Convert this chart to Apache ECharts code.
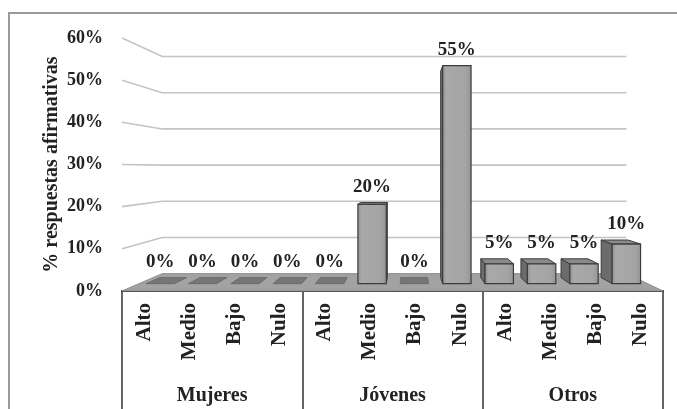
<!DOCTYPE html>
<html><head><meta charset="utf-8">
<script src="https://cdn.jsdelivr.net/npm/echarts@6/dist/echarts.min.js"></script>
<style>html,body{margin:0;padding:0;background:#fff}#c{width:677px;height:409px}</style>
</head><body><div id="c"></div><script>
// ---- data ----
const groups = ['Mujeres', 'Jóvenes', 'Otros'];
const levels = ['Alto', 'Medio', 'Bajo', 'Nulo'];
const categories = ['Alto','Medio','Bajo','Nulo','Alto','Medio','Bajo','Nulo','Alto','Medio','Bajo','Nulo'];
const values = [0, 0, 0, 0, 0, 20, 0, 55, 5, 5, 5, 10];
const yTicks = [0, 10, 20, 30, 40, 50, 60];
const yName = '% respuestas afirmativas';

// ---- view (perspective) parameters ----
const EYE_X_BANDS = 6.29;   // eye position measured in category bands from the left of the floor
const EYE_VALUE = 29;       // eye height in value units
const S_BACK = 0.858;       // scale of the back wall
const S_FRONT_BAR = 0.94;   // scale of bar front face
const S_BACK_BAR = 0.89;    // scale of bar back face
const BAR_W = 0.67;         // bar width as share of band

const FONT = '"Liberation Serif", "Times New Roman", serif';

function eye(api) {
  const band = api.size([1, 0])[0];
  const x0 = api.coord([0, 0])[0] - band / 2;
  return [x0 + EYE_X_BANDS * band, api.coord([0, EYE_VALUE])[1]];
}
function proj(e, x, y, s) { return [e[0] + (x - e[0]) * s, e[1] + (y - e[1]) * s]; }

function renderWalls(params, api) {
  const e = eye(api);
  const band = api.size([1, 0])[0];
  const x0 = api.coord([0, 0])[0] - band / 2;
  const x1 = x0 + categories.length * band;
  const y0 = api.coord([0, 0])[1];
  const children = [];
  yTicks.forEach(function (t) {
    if (t === 0) return;
    const y = api.coord([0, t])[1];
    const a = proj(e, x0, y, 1), b = proj(e, x0, y, S_BACK), c = proj(e, x1, y, S_BACK);
    children.push({ type: 'polyline', shape: { points: [a, b, c] },
      style: { stroke: '#c4c4c4', lineWidth: 1.6, fill: null } });
  });
  children.push({ type: 'polygon', shape: { points: [
      proj(e, x0, y0, 1), proj(e, x1, y0, 1), proj(e, x1, y0, S_BACK), proj(e, x0, y0, S_BACK)] },
    style: { fill: '#a2a2a2', stroke: '#8c8c8c', lineWidth: 1 } });
  return { type: 'group', children: children };
}

function renderBar(params, api) {
  const i = api.value(0), v = api.value(1);
  const e = eye(api);
  const band = api.size([1, 0])[0];
  const c = api.coord([i, v]);
  const c0 = api.coord([i, 0]);
  const hw = band * BAR_W / 2;
  const xL = c[0] - hw, xR = c[0] + hw, yT = c[1], yB = c0[1];
  const f = [proj(e, xL, yT, S_FRONT_BAR), proj(e, xR, yT, S_FRONT_BAR), proj(e, xR, yB, S_FRONT_BAR), proj(e, xL, yB, S_FRONT_BAR)];
  const b = [proj(e, xL, yT, S_BACK_BAR), proj(e, xR, yT, S_BACK_BAR), proj(e, xR, yB, S_BACK_BAR), proj(e, xL, yB, S_BACK_BAR)];
  const children = [];
  const edge = '#3c3c3c';
  if (v === 0) {
    children.push({ type: 'polygon', shape: { points: [f[0], f[1], b[1], b[0]] },
      style: { fill: '#767676', stroke: '#666', lineWidth: 0.8 } });
  } else {
    if (xL > e[0]) children.push({ type: 'polygon', shape: { points: [f[0], b[0], b[3], f[3]] },
      style: { fill: '#6c6c6c', stroke: edge, lineWidth: 1 } });
    if (xR < e[0]) children.push({ type: 'polygon', shape: { points: [f[1], b[1], b[2], f[2]] },
      style: { fill: '#6c6c6c', stroke: edge, lineWidth: 1 } });
    if (yT > e[1]) children.push({ type: 'polygon', shape: { points: [f[0], f[1], b[1], b[0]] },
      style: { fill: '#8a8a8a', stroke: edge, lineWidth: 1 } });
    children.push({ type: 'polygon', shape: { points: f },
      style: { fill: new echarts.graphic.LinearGradient(0, 0, 1, 0, [
          { offset: 0, color: '#8f8f8f' }, { offset: 0.15, color: '#a9a9a9' },
          { offset: 0.8, color: '#a4a4a4' }, { offset: 1, color: '#949494' }]),
        stroke: edge, lineWidth: 1.2 } });
  }
  const topY = Math.min(f[0][1], b[0][1]);
  children.push({ type: 'text', style: { text: v + '%', x: (f[0][0] + f[1][0]) / 2, y: topY - 6,
    align: 'center', verticalAlign: 'bottom', font: 'bold 19px ' + FONT, fill: '#222' } });
  return { type: 'group', children: children };
}

const chart = echarts.init(document.getElementById('c'), null, { renderer: 'canvas' });
chart.setOption({
  animation: false,
  backgroundColor: '#fff',
  graphic: [{ type: 'rect', shape: { x: 9, y: 13, width: 700, height: 500 },
    style: { fill: null, stroke: '#9a9a9a', lineWidth: 2 }, silent: true }],
  grid: { left: 122, right: 14, top: 38, bottom: 118 },
  xAxis: [{
    type: 'category', data: categories,
    axisLine: { lineStyle: { color: '#222', width: 2 } },
    axisTick: { show: false },
    axisLabel: { rotate: 90, interval: 0, margin: 12, color: '#222',
      fontFamily: FONT, fontWeight: 'bold', fontSize: 21 }
  }, {
    type: 'category', data: groups, position: 'bottom',
    axisLine: { show: false },
    axisTick: { show: true, length: 140, interval: 0, lineStyle: { color: '#333', width: 1.5 } },
    axisLabel: { interval: 0, margin: 95, color: '#222',
      fontFamily: FONT, fontWeight: 'bold', fontSize: 20 }
  }],
  yAxis: {
    type: 'value', min: yTicks[0], max: yTicks[yTicks.length - 1], interval: 10,
    axisLine: { show: false }, axisTick: { show: false }, splitLine: { show: false },
    axisLabel: { formatter: '{value}%', margin: 19, color: '#222',
      fontFamily: FONT, fontWeight: 'bold', fontSize: 18 },
    name: yName, nameLocation: 'middle', nameGap: 60, nameMoveOverlap: false,
    nameTextStyle: { color: '#222', fontFamily: FONT, fontWeight: 'bold', fontSize: 20 }
  },
  series: [{
    type: 'custom', renderItem: renderWalls, data: [[0, 0]], clip: false, z: 1, silent: true
  }, {
    type: 'custom', renderItem: renderBar, data: values.map(function (v, i) { return [i, v]; }),
    clip: false, z: 2, silent: true
  }]
});
</script></body></html>
